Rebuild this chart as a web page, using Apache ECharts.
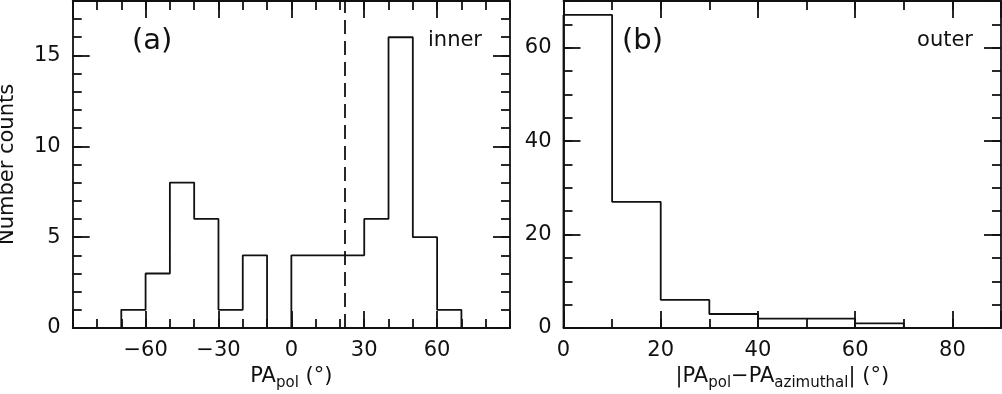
<!DOCTYPE html>
<html>
<head>
<meta charset="utf-8">
<script src="https://cdn.jsdelivr.net/npm/echarts@6/dist/echarts.min.js"></script>
<style>
html,body{margin:0;padding:0;background:#fff;}
#c{width:1002px;height:394px;}
</style>
</head>
<body>
<div id="c"></div>
<script>
// ---- data ----
const binEdgesA = [-70, -60, -50, -40, -30, -20, -10, 0, 10, 20, 30, 40, 50, 60, 70];
const countsA   = [1, 3, 8, 6, 1, 4, 0, 4, 4, 4, 6, 16, 5, 1];
const binEdgesB = [0, 10, 20, 30, 40, 50, 60, 70];
const countsB   = [67, 27, 6, 3, 2, 2, 1];
const dashedLineX = 22;
const xTickLabelsA = [-60, -30, 0, 30, 60];
const yTickLabelsA = [0, 5, 10, 15];
const xTickLabelsB = [0, 20, 40, 60, 80];
const yTickLabelsB = [0, 20, 40, 60];

function outline(edges, counts) {
  const pts = [[edges[0], 0]];
  for (let i = 0; i < counts.length; i++) {
    pts.push([edges[i], counts[i]]);
    pts.push([edges[i + 1], counts[i]]);
  }
  pts.push([edges[edges.length - 1], 0]);
  return pts;
}

const FONT = 'DejaVu Sans';
const LW = 1.8;
const BLACK = '#111';
const fmt = (allowed) => (v) => allowed.indexOf(Math.round(v)) >= 0 && Math.abs(v - Math.round(v)) < 1e-9 ? String(Math.round(v)).replace('-', '\u2212') : '';

function axis(kind, gridIndex, pos, min, max, interval, tickLen, opts) {
  opts = opts || {};
  const a = {
    type: 'value', gridIndex, position: pos, min, max, interval,
    axisLine: { show: !!opts.line, onZero: false, lineStyle: { color: BLACK, width: LW } },
    axisTick: { show: true, inside: true, length: tickLen, lineStyle: { color: BLACK, width: LW } },
    axisLabel: opts.labels ? {
      show: true, color: BLACK, fontFamily: FONT, fontSize: 21, margin: 12,
      formatter: fmt(opts.labels), showMinLabel: true, showMaxLabel: true
    } : { show: false },
    splitLine: { show: false },
    minorTick: { show: false }
  };
  if (opts.name) {
    a.name = opts.name;
    a.nameLocation = 'middle';
    a.nameGap = opts.nameGap;
    a.nameTextStyle = {
      color: BLACK, fontFamily: FONT, fontSize: 21,
      rich: {
        m: { fontFamily: FONT, fontSize: 21, color: BLACK, lineHeight: 28, verticalAlign: 'middle' },
        s: { fontFamily: FONT, fontSize: 15, color: BLACK, lineHeight: 28, verticalAlign: 'bottom' }
      }
    };
  }
  return a;
}

const xAxes = [
  axis('x', 0, 'bottom', -90, 90, 30, 17, { line: true, labels: xTickLabelsA, name: '{m|PA}{s|pol}{m| (\u00B0)}', nameGap: 33 }),
  axis('x', 0, 'bottom', -90, 90, 10, 9),
  axis('x', 0, 'top', -90, 90, 30, 17, { line: true }),
  axis('x', 0, 'top', -90, 90, 10, 9),
  axis('x', 1, 'bottom', 0, 90, 20, 17, { line: true, labels: xTickLabelsB, name: '{m||PA}{s|pol}{m|\u2212PA}{s|azimuthal}{m|| (\u00B0)}', nameGap: 33 }),
  axis('x', 1, 'bottom', 0, 90, 10, 9),
  axis('x', 1, 'top', 0, 90, 20, 17, { line: true }),
  axis('x', 1, 'top', 0, 90, 10, 9)
];
const yAxes = [
  axis('y', 0, 'left', 0, 18, 5, 17, { line: true, labels: yTickLabelsA, name: 'Number counts', nameGap: 55 }),
  axis('y', 0, 'left', 0, 18, 1, 9),
  axis('y', 0, 'right', 0, 18, 5, 17, { line: true }),
  axis('y', 0, 'right', 0, 18, 1, 9),
  axis('y', 1, 'left', 0, 70, 20, 17, { line: true, labels: yTickLabelsB }),
  axis('y', 1, 'left', 0, 70, 5, 9),
  axis('y', 1, 'right', 0, 70, 20, 17, { line: true }),
  axis('y', 1, 'right', 0, 70, 5, 9)
];
yAxes[0].nameTextStyle = { color: BLACK, fontFamily: FONT, fontSize: 21 };

const chart = echarts.init(document.getElementById('c'), null, { renderer: 'canvas' });
chart.setOption({
  backgroundColor: '#fff',
  animation: false,
  grid: [
    { left: 72.7, right: 492, top: 0.9, bottom: 66, containLabel: false, outerBoundsMode: 'none' },
    { left: 563.5, right: 1, top: 0.9, bottom: 66, containLabel: false, outerBoundsMode: 'none' }
  ],
  xAxis: xAxes,
  yAxis: yAxes,
  series: [
    {
      type: 'line', xAxisIndex: 0, yAxisIndex: 0, data: outline(binEdgesA, countsA),
      symbol: 'none', lineStyle: { color: BLACK, width: LW }, silent: true,
      markLine: {
        silent: true, symbol: ['none', 'none'], label: { show: false },
        lineStyle: { color: BLACK, width: LW, type: [14, 7] },
        data: [{ xAxis: dashedLineX }]
      }
    },
    {
      type: 'line', xAxisIndex: 4, yAxisIndex: 4, data: outline(binEdgesB, countsB),
      symbol: 'none', lineStyle: { color: BLACK, width: LW }, silent: true
    }
  ],
  graphic: [
    { type: 'text', left: 132, top: 27, style: { text: '(a)', fontFamily: FONT, fontSize: 29, fill: BLACK } },
    { type: 'text', left: 622, top: 27, style: { text: '(b)', fontFamily: FONT, fontSize: 29, fill: BLACK } },
    { type: 'text', right: 1002 - 482, top: 30, style: { text: 'inner', fontFamily: FONT, fontSize: 21, fill: BLACK } },
    { type: 'text', right: 1002 - 973, top: 30, style: { text: 'outer', fontFamily: FONT, fontSize: 21, fill: BLACK } }
  ]
});
</script>
</body>
</html>
